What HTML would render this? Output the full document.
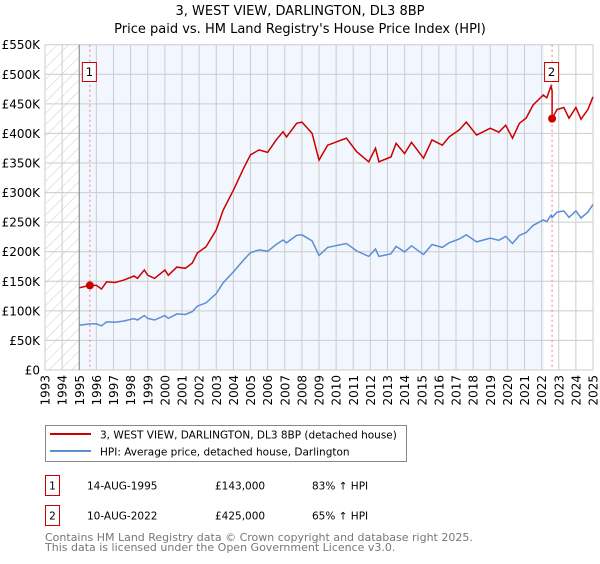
<!DOCTYPE html>
<html><head><meta charset="utf-8"><style>
body{margin:0;background:#fff;font-family:"DejaVu Sans","Liberation Sans",sans-serif;}
svg text{font-family:"DejaVu Sans","Liberation Sans",sans-serif;}
</style></head><body>
<svg id="chart" width="600" height="560" viewBox="0 0 600 560" xmlns="http://www.w3.org/2000/svg">
<defs><pattern id="hatch" width="8" height="8" patternUnits="userSpaceOnUse" patternTransform="rotate(45)"><line x1="0" y1="0" x2="0" y2="8" stroke="#ccc" stroke-width="1"/></pattern></defs>
<text x="300" y="15" text-anchor="middle" font-size="13">3, WEST VIEW, DARLINGTON, DL3 8BP</text>
<text x="300" y="33" text-anchor="middle" font-size="13">Price paid vs. HM Land Registry's House Price Index (HPI)</text>
<g id="plot"></g>
<g>
<rect x="45.5" y="425.5" width="361" height="36" fill="#fff" stroke="#888"/>
<line x1="50" y1="434" x2="91" y2="434" stroke="#cc0000" stroke-width="2"/>
<text x="100" y="438.5" font-size="10.5">3, WEST VIEW, DARLINGTON, DL3 8BP (detached house)</text>
<line x1="50" y1="451" x2="91" y2="451" stroke="#5b8fd4" stroke-width="2"/>
<text x="100" y="455.5" font-size="10.5">HPI: Average price, detached house, Darlington</text>
</g>
<g font-size="10.5">
<rect x="45.5" y="475.5" width="14" height="20" fill="#fff" stroke="#cc0000"/>
<text x="52.5" y="489.5" text-anchor="middle">1</text>
<text x="87" y="489.5">14-AUG-1995</text>
<text x="215" y="489.5">£143,000</text>
<text x="312" y="489.5">83% ↑ HPI</text>
<rect x="45.5" y="505.5" width="14" height="20" fill="#fff" stroke="#cc0000"/>
<text x="52.5" y="519.5" text-anchor="middle">2</text>
<text x="87" y="519.5">10-AUG-2022</text>
<text x="215" y="519.5">£425,000</text>
<text x="312" y="519.5">65% ↑ HPI</text>
</g>
<text x="45" y="541" font-size="11" fill="#777">Contains HM Land Registry data © Crown copyright and database right 2025.</text>
<text x="45" y="551" font-size="11" fill="#777">This data is licensed under the Open Government Licence v3.0.</text>
</svg>
<script>
const hpiYears=[1995.0,1995.6,1996.0,1996.3,1996.6,1997.1,1997.6,1998.2,1998.4,1998.8,1999.0,1999.4,2000.0,2000.2,2000.7,2001.2,2001.6,2001.9,2002.4,2003.0,2003.4,2004.0,2004.6,2005.0,2005.5,2006.0,2006.5,2006.9,2007.1,2007.7,2008.0,2008.6,2009.0,2009.5,2010.6,2011.2,2011.9,2012.3,2012.5,2013.2,2013.5,2014.0,2014.4,2015.1,2015.6,2016.2,2016.6,2017.2,2017.6,2018.2,2019.0,2019.5,2019.9,2020.3,2020.7,2021.1,2021.5,2022.1,2022.3,2022.55,2022.61,2022.9,2023.3,2023.6,2024.0,2024.3,2024.7,2025.0];
const hpiValues=[75.8,78.0,78.0,74.7,81.3,80.7,82.9,86.7,84.5,92.2,87.3,84.5,92.2,87.3,94.9,93.8,98.7,108,113.5,129.3,147.3,165.8,186,198.5,203,200.7,212.2,219.8,215,227.5,228.6,218.2,193.6,207.3,213.8,201.3,192,204.5,192,196.4,209,199.6,210,195.3,212.2,207.3,215,221.5,228.6,216.6,223,219.3,225.8,213.8,227.5,232.4,244.4,253.6,251,261.8,257.6,267,269,258,269,257,267,280];
const saleYears=[1995.62,2022.61];
const salePrices=[143,425];
const yTicks=[0,50,100,150,200,250,300,350,400,450,500,550];
const yTickLabels=["£0","£50K","£100K","£150K","£200K","£250K","£300K","£350K","£400K","£450K","£500K","£550K"];
const xTicks=[1993,1994,1995,1996,1997,1998,1999,2000,2001,2002,2003,2004,2005,2006,2007,2008,2009,2010,2011,2012,2013,2014,2015,2016,2017,2018,2019,2020,2021,2022,2023,2024,2025];

const X0=45,X1=593,Y0=370,Y1=44.7,xMin=1993,xMax=2025,yMax=550;
const sx=t=>X0+(t-xMin)/(xMax-xMin)*(X1-X0);
const sy=v=>Y0-v/yMax*(Y0-Y1);
const NS="http://www.w3.org/2000/svg";
const g=document.getElementById('plot');
function mk(tag,attrs){const e=document.createElementNS(NS,tag);for(const k in attrs)e.setAttribute(k,attrs[k]);g.appendChild(e);return e;}
function interp(t){for(let i=1;i<hpiYears.length;i++){if(t<=hpiYears[i]){const a=hpiYears[i-1],b=hpiYears[i];return hpiValues[i-1]+(hpiValues[i]-hpiValues[i-1])*(t-a)/(b-a);}}return hpiValues[hpiValues.length-1];}

let e=mk('rect',{x:X0,y:Y1,width:X1-X0,height:Y0-Y1,fill:'#fff'});


e=mk('rect',{x:sx(1995),y:Y1,width:544-sx(1995),height:Y0-Y1,fill:'#f2f6fe'});


e=mk('rect',{x:X0,y:Y1,width:sx(1995)-X0,height:Y0-Y1,fill:'url(#hatch)'});


xTicks.forEach(t=>{
  const l=mk('line',{x1:sx(t),x2:sx(t),y1:Y1,y2:Y0,stroke:'#ccc','stroke-width':1});
  
  
  const tx=mk('text',{x:0,y:0,'font-size':12,'text-anchor':'end',transform:`translate(${sx(t)+4.5},375) rotate(-90)`});
  tx.textContent=t;
  
  
});
yTicks.forEach((v,i)=>{
  const l=mk('line',{x1:X0,x2:X1,y1:sy(v),y2:sy(v),stroke:'#ccc','stroke-width':1});
  
  
  const tx=mk('text',{x:40,y:sy(v)+4.5,'font-size':12,'text-anchor':'end'});
  tx.textContent=yTickLabels[i];
  
  
});
e=mk('line',{x1:sx(1995),x2:sx(1995),y1:Y1,y2:Y0,stroke:'#888','stroke-width':1});


saleYears.forEach((t,i)=>{
  const l=mk('line',{x1:sx(t),x2:sx(t),y1:Y1,y2:Y0,stroke:'#f08080','stroke-width':1,'stroke-dasharray':'2,3'});
  
  
});
let d='';hpiYears.forEach((t,i)=>{d+=(i?'L':'M')+sx(t).toFixed(1)+','+sy(hpiValues[i]).toFixed(1);});
e=mk('path',{d:d,fill:'none',stroke:'#5b8fd4','stroke-width':1.5});


const r1=salePrices[0]/interp(saleYears[0]),r2=salePrices[1]/interp(saleYears[1]);
d='';let first=true;
hpiYears.forEach((t,i)=>{
  const r=t<saleYears[1]?r1:r2;
  if(Math.abs(t-saleYears[1])<1e-6){d+='L'+sx(t).toFixed(1)+','+sy(hpiValues[i]*r1).toFixed(1);}
  d+=(first?'M':'L')+sx(t).toFixed(1)+','+sy(hpiValues[i]*r).toFixed(1);first=false;
});
e=mk('path',{d:d,fill:'none',stroke:'#cc0000','stroke-width':1.5});


saleYears.forEach((t,i)=>{
  const c=mk('circle',{cx:sx(t),cy:sy(salePrices[i]),r:4,fill:'#cc0000'});
  
  
  const b=mk('rect',{x:sx(t)-7.5,y:62.5,width:14,height:19,fill:'#fff',stroke:'#cc0000'});
  
  
  const tx=mk('text',{x:sx(t)-0.5,y:76,'font-size':11.5,'text-anchor':'middle'});
  tx.textContent=String(i+1);
  
  
});
</script>
</body></html>
